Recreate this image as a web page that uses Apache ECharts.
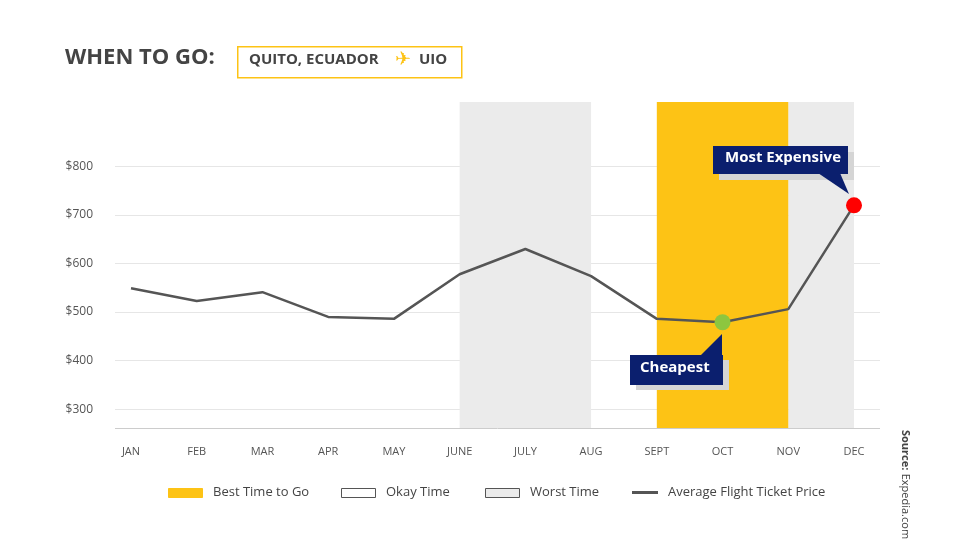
<!DOCTYPE html>
<html><head><meta charset="utf-8">
<script src="https://cdn.jsdelivr.net/npm/echarts@6/dist/echarts.min.js"></script>
<style>html,body{margin:0;background:#fff}#c{width:960px;height:540px}</style>
</head><body><div id="c"></div>
<script>
var months = ['JAN','FEB','MAR','APR','MAY','JUNE','JULY','AUG','SEPT','OCT','NOV','DEC'];
var prices = [549, 523, 541, 490, 486, 578, 630, 574, 486, 479, 506, 720];
var yTicks = [300, 400, 500, 600, 700, 800];
var worstSpans = [['JUNE','AUG'], ['NOV','DEC']];
var bestSpan = ['SEPT','NOV'];
var legendItems = ['Best Time to Go', 'Okay Time', 'Worst Time', 'Average Flight Ticket Price'];

var chart = echarts.init(document.getElementById('c'));
var font = 'Open Sans';
var yMin = 261, yMax = 933;

var areas = worstSpans.map(function (s) {
  return [{xAxis: s[0], itemStyle: {color: '#ebebeb'}}, {xAxis: s[1]}];
});
areas.push([{xAxis: bestSpan[0], itemStyle: {color: '#fdc315'}}, {xAxis: bestSpan[1]}]);

var lineData = prices.map(function (v, i) {
  if (i === 9) return {value: v, symbol: 'circle', symbolSize: 16, itemStyle: {color: '#8dc63f'}};
  if (i === 11) return {value: v, symbol: 'circle', symbolSize: 16, itemStyle: {color: '#ff0000'}};
  return {value: v, symbol: 'none'};
});

function legendGraphic() {
  var xs = [168, 341, 485, 632];
  var out = [];
  legendItems.forEach(function (name, i) {
    var x = xs[i];
    if (i === 3) {
      out.push({type: 'rect', z: 100, left: x, top: 491, shape: {width: 26, height: 3}, style: {fill: '#555'}});
    } else {
      out.push({type: 'rect', z: 100, left: x, top: 488, shape: {width: 34, height: 9},
        style: {fill: ['#fdc315', '#fff', '#ebebeb'][i], stroke: i === 0 ? '#fdc315' : '#555', lineWidth: 1}});
    }
    out.push({type: 'text', z: 100, left: x + (i === 3 ? 36 : 45), top: 486,
      style: {text: name, font: '13px ' + font, fill: '#444'}});
  });
  return out;
}

var callouts = [
  {type: 'rect', left: 719, top: 152, shape: {width: 135, height: 28}, style: {fill: '#d5d5d5'}},
  {type: 'polygon', shape: {points: [[818, 173], [840, 173], [849, 194]]}, style: {fill: '#0b1f6e'}},
  {type: 'rect', left: 713, top: 146, shape: {width: 135, height: 28}, style: {fill: '#0b1f6e'}},
  {type: 'text', left: 725, top: 150, style: {text: 'Most Expensive', font: 'bold 15px ' + font, fill: '#fff'}},
  {type: 'rect', left: 636, top: 360, shape: {width: 93, height: 30}, style: {fill: '#d5d5d5'}},
  {type: 'polygon', shape: {points: [[700, 356], [722, 356], [722, 334]]}, style: {fill: '#0b1f6e'}},
  {type: 'rect', left: 630, top: 355, shape: {width: 93, height: 30}, style: {fill: '#0b1f6e'}},
  {type: 'text', left: 640, top: 360, style: {text: 'Cheapest', font: 'bold 15px ' + font, fill: '#fff'}}
];
callouts.forEach(function (g) { g.z = 100; });

var option = {
  animation: false,
  grid: [
    {left: 115, right: 80, top: 102, bottom: 112},
    {left: 131, right: 106, top: 102, bottom: 112}
  ],
  xAxis: [
    {gridIndex: 0, type: 'value', min: 0, max: 1, show: false},
    {gridIndex: 1, type: 'category', data: months, boundaryGap: false,
      axisLine: {show: false}, axisTick: {show: false},
      axisLabel: {color: '#555', fontFamily: font, fontSize: 11, margin: 18}}
  ],
  yAxis: [
    {gridIndex: 0, type: 'value', min: yMin, max: yMax, interval: 1,
      axisLine: {show: false}, axisTick: {show: false}, splitLine: {show: false},
      axisLabel: {show: false}},
    {gridIndex: 1, type: 'value', min: yMin, max: yMax, show: false}
  ],
  series: [
    {type: 'line', xAxisIndex: 0, yAxisIndex: 0, data: [], silent: true, z: 1,
      markLine: {symbol: 'none', silent: true, z: 1,
        lineStyle: {color: '#e6e6e6', type: 'solid', width: 1},
        label: {show: true, position: 'start', distance: 22, formatter: function (p) { return '$' + p.value; },
          color: '#555', fontFamily: font, fontSize: 12},
        data: yTicks.map(function (v) { return {yAxis: v}; })
          .concat([{yAxis: yMin, lineStyle: {color: '#ccc'}, label: {show: false}}])}
    },
    {type: 'line', xAxisIndex: 1, yAxisIndex: 1, data: lineData, z: 5,
      lineStyle: {color: '#555', width: 2.5},
      markArea: {silent: true, z: 3, data: areas}
    }
  ],
  graphic: [
    {type: 'text', z: 100, left: 65, top: 47, style: {text: 'WHEN TO GO:', font: 'bold 22px ' + font, fill: '#444'}},
    {type: 'rect', z: 100, left: 237, top: 46, shape: {width: 224, height: 31}, style: {fill: '#fff', stroke: '#fdc315', lineWidth: 1.5}},
    {type: 'text', z: 101, left: 249, top: 52, style: {text: 'QUITO, ECUADOR', font: 'bold 15px ' + font, fill: '#444'}},
    {type: 'text', z: 101, left: 395, top: 51, style: {text: '✈', font: '19px DejaVu Sans', fill: '#fdc315'}},
    {type: 'text', z: 101, left: 419, top: 52, style: {text: 'UIO', font: 'bold 15px ' + font, fill: '#444'}},
    {type: 'text', z: 100, x: 911, y: 430, rotation: -Math.PI / 2,
      style: {rich: {b: {font: 'bold 11px ' + font, fill: '#444'}, n: {font: '11px ' + font, fill: '#444'}},
        text: '{b|Source:} {n|Expedia.com flight demand from 2016-2019}'}}
  ].concat(callouts, legendGraphic())
};
chart.setOption(option);
</script>
</body></html>
